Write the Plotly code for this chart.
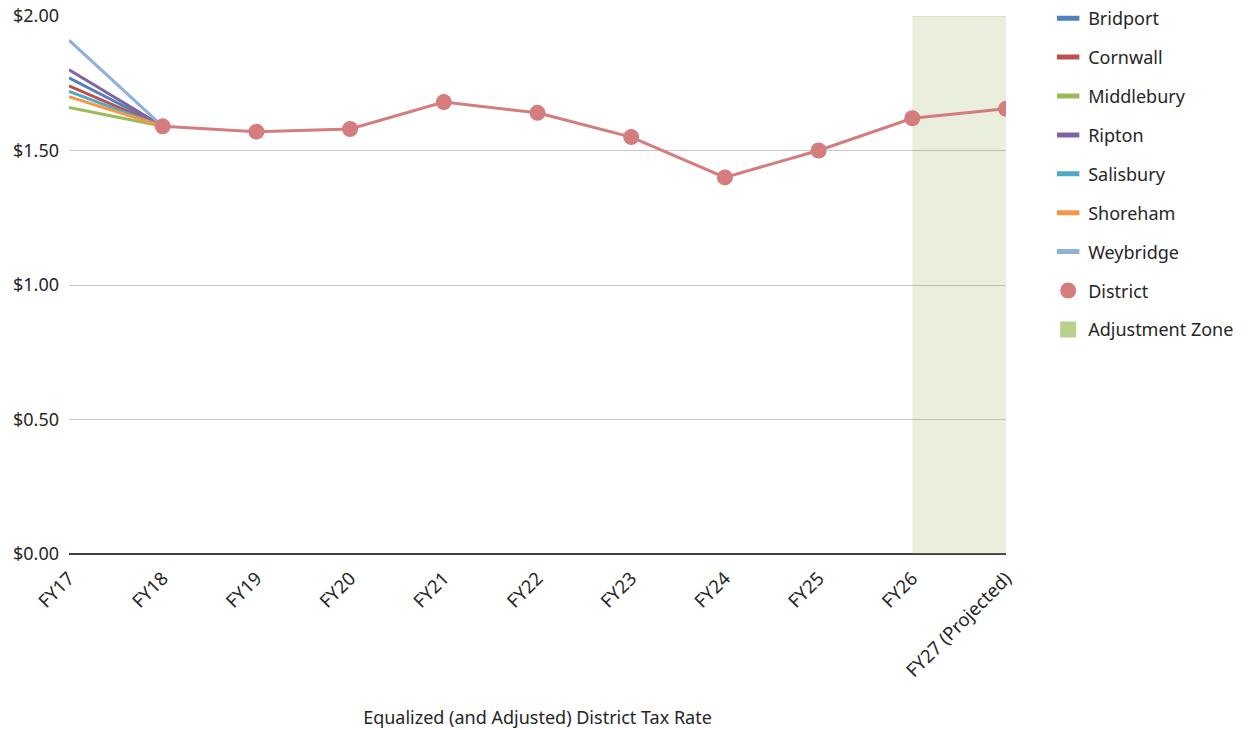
import plotly.graph_objects as go

years = ["FY17", "FY18", "FY19", "FY20", "FY21", "FY22", "FY23", "FY24", "FY25", "FY26", "FY27 (Projected)"]

# Town rates before merging into the district (FY17 -> FY18)
towns = ["Bridport", "Cornwall", "Middlebury", "Ripton", "Salisbury", "Shoreham", "Weybridge"]
town_fy17 = [1.77, 1.74, 1.66, 1.80, 1.72, 1.70, 1.91]
town_fy18 = [1.59, 1.59, 1.59, 1.59, 1.59, 1.59, 1.59]
town_colors = ["#4f81bd", "#c0504d", "#9bbb59", "#8064a2", "#4bacc6", "#f79646", "#8eb0da"]

# District-wide equalized rate, FY18 onward
district_years = years[1:]
district_rate = [1.59, 1.57, 1.58, 1.68, 1.64, 1.55, 1.40, 1.50, 1.62, 1.655]

# Shaded adjustment zone
zone_years = ["FY26", "FY27 (Projected)"]
zone_top = [2.0, 2.0]

FONT = "Noto Sans"
TEXT = "#262626"
DISTRICT = "#d47c7e"
ZONE_FILL = "rgba(160,180,100,0.22)"
ZONE_KEY = "#b8d08e"

fig = go.Figure()

# shaded zone (drawn first so lines sit on top)
fig.add_trace(go.Scatter(
    x=zone_years, y=zone_top, mode="lines", fill="tozeroy", fillcolor=ZONE_FILL,
    line=dict(color="rgba(160,190,100,0.35)", width=1.5),
    showlegend=False, hoverinfo="skip",
))

for i, name in enumerate(towns):
    fig.add_trace(go.Scatter(
        x=years[:2], y=[town_fy17[i], town_fy18[i]], mode="lines", name=name,
        line=dict(color=town_colors[i], width=3), showlegend=False,
    ))

fig.add_trace(go.Scatter(
    x=district_years, y=district_rate, mode="lines+markers", name="District",
    line=dict(color=DISTRICT, width=3),
    marker=dict(color=DISTRICT, size=16),
    showlegend=False,
))

# legend keys: short thick bars for towns, a dot for the district, a square for the zone
for i, name in enumerate(towns):
    fig.add_trace(go.Scatter(
        x=[None], y=[None], mode="markers", name=name, legendgroup=name,
        marker=dict(symbol="line-ew", size=22, color=town_colors[i],
                    line=dict(color=town_colors[i], width=6)),
    ))
fig.add_trace(go.Scatter(
    x=[None], y=[None], mode="markers", name="District", legendgroup="district",
    marker=dict(symbol="circle", size=21, color=DISTRICT),
))
fig.add_trace(go.Scatter(
    x=[None], y=[None], mode="markers", name="Adjustment Zone", legendgroup="zone",
    marker=dict(symbol="square", size=21, color=ZONE_KEY),
))

fig.update_layout(
    width=1251, height=730,
    margin=dict(l=69, r=245, t=16, b=176, autoexpand=False),
    paper_bgcolor="white", plot_bgcolor="white",
    font=dict(family=FONT, size=18, color=TEXT),
    showlegend=True,
    legend=dict(
        x=1.045, xanchor="left", y=1.009, yanchor="top", yref="container",
        font=dict(family=FONT, size=18, color=TEXT),
        tracegroupgap=12.5, itemwidth=30,
    ),
    xaxis=dict(
        type="category", categoryorder="array", categoryarray=years,
        range=[0, 10], showgrid=False, tickangle=-45, automargin=False,
        ticks="", showline=False, zeroline=False, ticklabelstandoff=9,
        title=dict(text="Equalized (and Adjusted) District Tax Rate",
                   font=dict(family=FONT, size=18, color=TEXT), standoff=30),
        tickfont=dict(family=FONT, size=18.5, color=TEXT),
    ),
    yaxis=dict(
        range=[0, 2.0], dtick=0.5, tickformat="$.2f", automargin=False,
        showgrid=True, gridcolor="#c6c6c6", gridwidth=1.3,
        zeroline=True, zerolinecolor="#404040", zerolinewidth=1.5,
        ticks="", ticklabelstandoff=9,
        tickfont=dict(family=FONT, size=18, color=TEXT),
    ),
)

fig.write_html("out.html")
